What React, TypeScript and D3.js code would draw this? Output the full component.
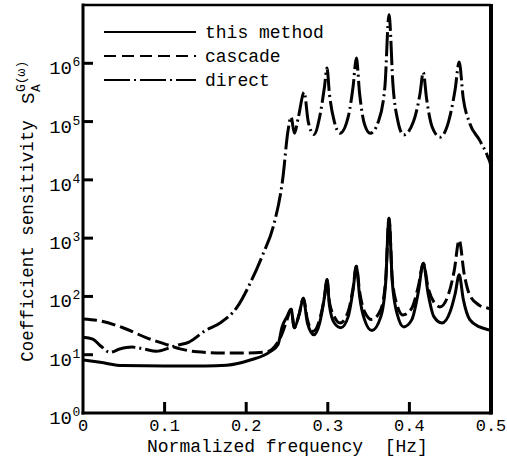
import React from "react";
import * as d3 from "d3";

// ---- data ----
const xTicks = [0, 0.1, 0.2, 0.3, 0.4, 0.5];
const xTickLabels = ["0", "0.1", "0.2", "0.3", "0.4", "0.5"];
const yTickExps = [0, 1, 2, 3, 4, 5, 6];

const legendLabels = ["this method", "cascade", "direct"];

// this method (solid)
const methodF = [0, 0.021, 0.049, 0.1, 0.15, 0.176, 0.205, 0.229, 0.239, 0.244, 0.25, 0.255, 0.259, 0.265, 0.27, 0.275, 0.283, 0.29, 0.296, 0.299, 0.302, 0.308, 0.316, 0.325, 0.331, 0.335, 0.339, 0.345, 0.354, 0.365, 0.371, 0.375, 0.379, 0.385, 0.393, 0.403, 0.411, 0.417, 0.423, 0.43, 0.44, 0.45, 0.456, 0.461, 0.466, 0.474, 0.486, 0.496, 0.4995, 0.5];
const methodV = [8.1, 7.4, 6.5, 6.4, 6.4, 6.6, 8.1, 11.2, 15, 30, 45, 60, 29, 50, 93, 35, 22, 35, 100, 195, 70, 35, 29, 45, 130, 330, 100, 40, 26, 45, 180, 2200, 180, 50, 30, 40, 120, 370, 110, 45, 35, 55, 110, 235, 90, 40, 30, 27, 26, 1];

// cascade (dashed)
const cascadeF = [0, 0.021, 0.049, 0.078, 0.103, 0.119, 0.14, 0.17, 0.2, 0.225, 0.238, 0.244, 0.25, 0.255, 0.259, 0.265, 0.27, 0.275, 0.282, 0.29, 0.296, 0.299, 0.302, 0.308, 0.315, 0.325, 0.331, 0.335, 0.339, 0.345, 0.354, 0.365, 0.371, 0.375, 0.379, 0.385, 0.392, 0.402, 0.411, 0.417, 0.423, 0.43, 0.4375, 0.447, 0.455, 0.461, 0.467, 0.474, 0.486, 0.496, 0.4995, 0.5];
const cascadeV = [41, 38, 29, 19.5, 14.8, 12.6, 11.2, 10.7, 10.7, 11.2, 15.8, 23, 40, 60, 29, 50, 93, 40, 25, 40, 100, 195, 80, 45, 35, 55, 140, 330, 120, 55, 40, 60, 200, 2200, 200, 70, 48, 60, 150, 370, 140, 80, 66, 100, 280, 930, 250, 105, 70, 63, 60, 1];

// direct (dash-dot)
const directF = [0, 0.012, 0.022, 0.033, 0.045, 0.06, 0.075, 0.09, 0.105, 0.115, 0.13, 0.15, 0.168, 0.189, 0.205, 0.221, 0.233, 0.245, 0.251, 0.255, 0.259, 0.264, 0.271, 0.276, 0.283, 0.29, 0.296, 0.299, 0.302, 0.308, 0.315, 0.325, 0.331, 0.335, 0.339, 0.345, 0.352, 0.362, 0.37, 0.375, 0.38, 0.386, 0.393, 0.405, 0.413, 0.417, 0.421, 0.428, 0.4375, 0.448, 0.456, 0.461, 0.466, 0.474, 0.486, 0.496, 0.4995, 0.5];
const directV = [20, 18.5, 14, 11, 12.5, 13.5, 12.5, 11.5, 13, 14.5, 16.5, 26, 35, 66, 170, 550, 1550, 11000, 66000, 120000, 63000, 120000, 320000, 100000, 60000, 120000, 400000, 830000, 300000, 100000, 63000, 120000, 400000, 1230000, 300000, 90000, 63000, 100000, 400000, 6800000, 400000, 100000, 59000, 100000, 300000, 700000, 250000, 80000, 54000, 100000, 350000, 1050000, 250000, 93000, 48000, 25000, 18000, 1];

const W = 507;
const H = 460;
const FONT = "'Liberation Mono', 'DejaVu Sans Mono', monospace";

export default function App() {
  const x = d3.scaleLinear().domain([0, 0.5]).range([83, 491]);
  const y = d3.scaleLog().domain([1, 1e7]).range([413, 5]);

  const line = d3
    .line<[number, number]>()
    .x((d) => x(d[0]))
    .y((d) => y(d[1]))
    .curve(d3.curveMonotoneX);

  const zip = (f: number[], v: number[]) => f.map((ff, i) => [ff, v[i]] as [number, number]);

  const series = [
    { d: line(zip(methodF, methodV)), dash: "none" },
    { d: line(zip(cascadeF, cascadeV)), dash: "14,5" },
    { d: line(zip(directF, directV)), dash: "24,4,2,4" },
  ];

  const legendDash = ["none", "12,6", "26,4,2,4"];

  return (
    <svg
      width={W}
      height={H}
      style={{ position: "absolute", left: 0, top: 0, background: "#fff" }}
      fontFamily={FONT}
    >
      <rect x={0} y={0} width={W} height={H} fill="#fff" />
      {/* curves */}
      <g fill="none" stroke="#000" strokeWidth={3} strokeLinejoin="round">
        {series.map((s, i) => (
          <path key={i} d={s.d || ""} strokeDasharray={s.dash} />
        ))}
      </g>
      {/* frame */}
      <line x1={83} y1={5} x2={491} y2={5} stroke="#000" strokeWidth={2.5} />
      <line x1={83} y1={3.5} x2={83} y2={414.5} stroke="#000" strokeWidth={3} />
      <line x1={81.5} y1={413} x2={492} y2={413} stroke="#000" strokeWidth={3} />
      <line x1={491} y1={4} x2={491} y2={414.5} stroke="#000" strokeWidth={4} />

      {/* y ticks */}
      {yTickExps.map((e) => (
        <g key={e}>
          {e > 0 && (
            <line x1={83} x2={93} y1={y(Math.pow(10, e))} y2={y(Math.pow(10, e))} stroke="#000" strokeWidth={3} />
          )}
          <text x={72} y={y(Math.pow(10, e)) + 11} fontSize={19} textAnchor="end" fill="#000">
            10
          </text>
          <text x={72.5} y={y(Math.pow(10, e)) + 3} fontSize={13} textAnchor="start" fill="#000">
            {e}
          </text>
        </g>
      ))}

      {/* x ticks */}
      {xTicks.map((t, i) => (
        <g key={t}>
          {t > 0 && t < 0.5 && (
            <line x1={x(t)} x2={x(t)} y1={413} y2={402} stroke="#000" strokeWidth={3} />
          )}
          <text x={x(t)} y={431} fontSize={17} textAnchor="middle" fill="#000">
            {xTickLabels[i]}
          </text>
        </g>
      ))}

      {/* x label */}
      <text x={147} y={452} fontSize={18} fill="#000" xmlSpace="preserve" style={{ whiteSpace: "pre" }}>
        {"Normalized frequency  [Hz]"}
      </text>

      {/* y label */}
      <text
        transform="translate(33, 241) rotate(-90)"
        fontSize={17.5}
        textAnchor="middle"
        fill="#000"
      >
        Coefficient sensitivity
      </text>
      <g transform="translate(34, 104) rotate(-90)">
        <text x={0} y={0} fontSize={19} fill="#000">S</text>
        <text x={12} y={6} fontSize={13} fill="#000">A</text>
        <text x={12} y={-9} fontSize={13} fill="#000">G(ω)</text>
      </g>

      {/* legend */}
      {legendLabels.map((l, i) => (
        <g key={l}>
          <line
            x1={104}
            x2={196}
            y1={32 + i * 24}
            y2={32 + i * 24}
            stroke="#000"
            strokeWidth={2}
            strokeDasharray={legendDash[i]}
          />
          <text x={205} y={32 + i * 24} dy="0.35em" fontSize={18} fill="#000">
            {l}
          </text>
        </g>
      ))}
    </svg>
  );
}
